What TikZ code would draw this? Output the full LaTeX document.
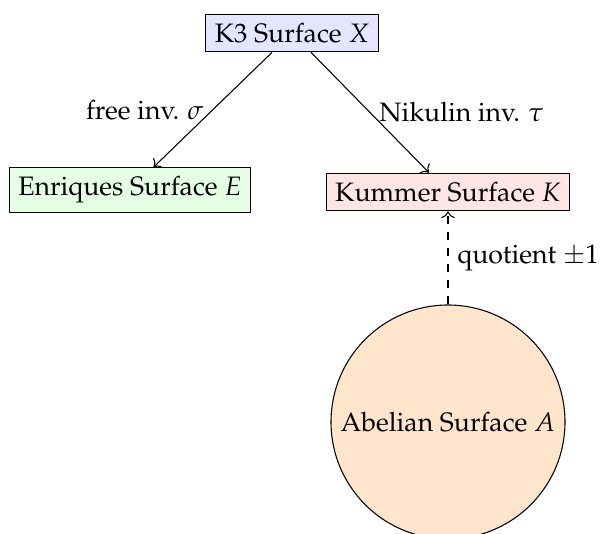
\documentclass[tikz,border=0pt]{standalone}
\usepackage[T1]{fontenc}
\usepackage{mathpazo}
\usetikzlibrary{arrows.meta}
\tikzset{
  surf/.style={draw, inner sep=0.333em},
  arr/.style={->},
  lbl/.style={font=\normalsize}
}
\begin{document}
\begin{tikzpicture}[x=0.375pt,y=-0.375pt]
  \useasboundingbox (0,0) rectangle (600,534);
  \clip (0,0) rectangle (600,534);
  % surfaces
  \node[surf, fill=blue!10] (X) at (292,33) {K3 Surface $X$};
  \node[surf, fill=green!10] (E) at (130,190) {Enriques Surface $E$};
  \node[surf, fill=red!10] (K) at (448,192) {Kummer Surface $K$};
  \node[draw, circle, fill=orange!20, minimum size=234*0.375pt, inner sep=0pt] (A) at (448,422) {Abelian Surface $A$};
  % maps between them
  \draw[arr] (X) -- node[midway, left] {free inv. $\sigma$} (E);
  \draw[arr] (X) -- node[midway, right] {Nikulin inv. $\tau$} (K);
  \draw[arr, dashed] (A) -- node[midway, right] {quotient $\pm1$} (K);
\end{tikzpicture}
\end{document}
